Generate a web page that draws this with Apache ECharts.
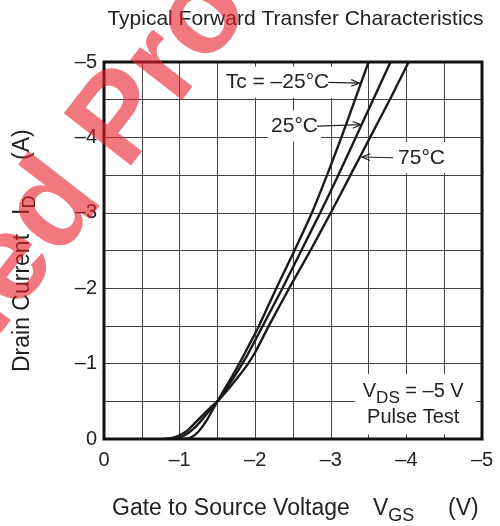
<!DOCTYPE html>
<html>
<head>
<meta charset="utf-8">
<script src="https://cdn.jsdelivr.net/npm/echarts@6/dist/echarts.min.js"></script>
<style>
  html, body { margin: 0; padding: 0; background: #fff; }
  #chart { width: 500px; height: 526px; }
</style>
</head>
<body>
<div id="chart"></div>
<script>
const FONT = '"Liberation Sans", Arial, Helvetica, sans-serif'

// magnitudes: [|VGS| (V), |ID| (A)]
const curveM25 = [[1.05, 0], [1.15, 0.02], [1.25, 0.1], [1.36, 0.25], [1.5, 0.5], [1.6, 0.67], [1.7, 0.84], [1.8, 1.02], [1.9, 1.21], [2.05, 1.5], [2.28, 2.0], [2.52, 2.5], [2.75, 3.0], [2.95, 3.5], [3.14, 4.0], [3.32, 4.5], [3.5, 5.0]]
const curve25 = [[0.9, 0], [1.0, 0.02], [1.1, 0.07], [1.2, 0.15], [1.3, 0.26], [1.4, 0.38], [1.5, 0.5], [1.6, 0.64], [1.7, 0.79], [1.8, 0.95], [1.9, 1.12], [2.1, 1.5], [2.36, 2.0], [2.61, 2.5], [2.86, 3.0], [3.1, 3.5], [3.33, 4.0], [3.56, 4.5], [3.79, 5.0]]
const curve75 = [[0.78, 0], [0.9, 0.015], [1.0, 0.05], [1.1, 0.11], [1.2, 0.21], [1.3, 0.31], [1.4, 0.41], [1.5, 0.5], [1.6, 0.61], [1.7, 0.73], [1.8, 0.855], [1.9, 0.99], [2.0, 1.15], [2.18, 1.5], [2.45, 2.0], [2.73, 2.5], [3.0, 3.0], [3.26, 3.5], [3.52, 4.0], [3.78, 4.5], [4.03, 5.0]]

// annotation anchors in data units
const notes = [
  { text: 'Tc = –25°C', at: [1.57, 4.73], tip: [3.38, 4.72], side: 'right' },
  { text: '25°C', at: [2.17, 4.15], tip: [3.40, 4.17], side: 'right' },
  { text: '75°C', at: [3.85, 3.73], tip: [3.41, 3.74], side: 'left' },
]
const condBox = [[3.32, 0.06], [4.92, 0.86]]
const condAt = [[4.09, 0.63], [4.09, 0.29]]

const chart = echarts.init(document.getElementById('chart'))
const negLabel = v => (Number.isInteger(v) ? (v === 0 ? '0' : '–' + v) : '')

const lineSeries = (name, data) => ({
  name,
  type: 'line',
  data,
  showSymbol: false,
  smooth: 0.2,
  silent: true,
  z: 3,
  lineStyle: { color: '#1a1a1a', width: 2.4 },
})

const axisCommon = {
  type: 'value',
  min: 0,
  max: 5,
  interval: 0.5,
  axisLine: { show: false },
  axisTick: { show: false },
  splitLine: { lineStyle: { color: '#444', width: 1 } },
}

chart.setOption({
  animation: false,
  grid: { left: 104, right: 18, top: 62, bottom: 87 },
  xAxis: {
    ...axisCommon,
    axisLabel: { formatter: negLabel, fontSize: 20, color: '#222', fontFamily: FONT, margin: 11 },
  },
  yAxis: {
    ...axisCommon,
    axisLabel: { formatter: negLabel, fontSize: 20, color: '#222', fontFamily: FONT, margin: 7 },
  },
  series: [
    lineSeries('Tc = -25°C', curveM25),
    lineSeries('25°C', curve25),
    lineSeries('75°C', curve75),
  ],
})

// ---- overlays: frame, texts, arrows ----
const ctx = document.createElement('canvas').getContext('2d')
const fontOf = (size, weight) => (weight || 'normal') + ' ' + size + 'px ' + FONT
const textWidth = (s, size, weight) => {
  ctx.font = fontOf(size, weight)
  return ctx.measureText(s).width
}
const px = p => chart.convertToPixel({ gridIndex: 0 }, p)

// pieces laid out left to right, subscripts follow the piece before them
function run(pieces) {
  let x = 0
  return pieces.map(p => {
    if (p.x != null) x = p.x
    const el = {
      type: 'text',
      x,
      y: p.dy || 0,
      style: { text: p.text, font: fontOf(p.size), fill: '#222', align: 'left', verticalAlign: 'middle' },
    }
    x += textWidth(p.text, p.size)
    return el
  })
}

function arrow(from, to) {
  const a = Math.atan2(to[1] - from[1], to[0] - from[0])
  const L = 9, s = 0.38
  const h1 = [to[0] - L * Math.cos(a - s), to[1] - L * Math.sin(a - s)]
  const h2 = [to[0] - L * Math.cos(a + s), to[1] - L * Math.sin(a + s)]
  return [
    { type: 'polyline', z: 20, shape: { points: [from, to] }, style: { stroke: '#222', lineWidth: 1.2, fill: null } },
    { type: 'polyline', z: 20, shape: { points: [h1, to, h2] }, style: { stroke: '#222', lineWidth: 1.2, fill: null } },
  ]
}

const g = []
const tl = px([0, 5]), br = px([5, 0])
g.push({ type: 'rect', z: 15, shape: { x: tl[0], y: tl[1], width: br[0] - tl[0], height: br[1] - tl[1] }, style: { stroke: '#111', lineWidth: 3, fill: null } })

notes.forEach(n => {
  const p = px(n.at)
  const w = textWidth(n.text, 21)
  g.push({
    type: 'text', z: 18, x: p[0], y: p[1],
    style: { text: n.text, font: fontOf(21), fill: '#222', align: 'left', verticalAlign: 'middle', backgroundColor: '#fff', padding: [5, 3, 5, 3] },
  })
  const start = n.side === 'right' ? [p[0] + w + 2, p[1]] : [p[0] - 2, p[1]]
  g.push(...arrow(start, px(n.tip)))
})

const b0 = px(condBox[0]), b1 = px(condBox[1])
g.push({ type: 'rect', z: 17, shape: { x: b0[0], y: b1[1], width: b1[0] - b0[0], height: b0[1] - b1[1] }, style: { fill: '#fff' } })
const c1 = px(condAt[0]), c2 = px(condAt[1])
const vdsPieces = [{ text: 'V', size: 20 }, { text: 'DS', size: 17, dy: 7 }, { text: ' = –5 V', size: 20 }]
const vdsW = vdsPieces.reduce((s, p) => s + textWidth(p.text, p.size), 0)
g.push({ type: 'group', z: 18, x: c1[0] - vdsW / 2, y: c1[1], children: run(vdsPieces).map(e => ({ ...e, z: 18 })) })
g.push({ type: 'text', z: 18, x: c2[0], y: c2[1], style: { text: 'Pulse Test', font: fontOf(20), fill: '#222', align: 'center', verticalAlign: 'middle' } })

// title and axis names
g.push({ type: 'text', x: 295.5, y: 19, style: { text: 'Typical Forward Transfer Characteristics', font: fontOf(21), fill: '#222', align: 'center', verticalAlign: 'middle' } })
g.push({
  type: 'group', x: 0, y: 509,
  children: run([
    { text: 'Gate to Source Voltage', size: 23, x: 112 },
    { text: 'V', size: 23, x: 373 },
    { text: 'GS', size: 18, dy: 7 },
    { text: '(V)', size: 23, x: 448 },
  ]),
})
g.push({
  type: 'group', x: 23, y: 372, rotation: Math.PI / 2,
  children: run([
    { text: 'Drain Current', size: 23, x: 0 },
    { text: 'I', size: 23, x: 157 },
    { text: 'D', size: 18, dy: 7 },
    { text: '(A)', size: 23, x: 212 },
  ]),
})

// red watermark across the top-left corner
g.push({
  type: 'group', x: 99, y: 151, rotation: 0.91, z: 50,
  children: [
    { type: 'text', z: 50, style: { text: 'Discontinued ', font: fontOf(124, 'bold'), fill: 'rgba(232,30,40,0.6)', align: 'right', verticalAlign: 'middle' } },
    { type: 'text', z: 50, style: { text: 'Product', font: fontOf(124, 'bold'), fill: 'rgba(232,30,40,0.6)', align: 'left', verticalAlign: 'middle' } },
  ],
})

chart.setOption({ graphic: g })
</script>
</body>
</html>
